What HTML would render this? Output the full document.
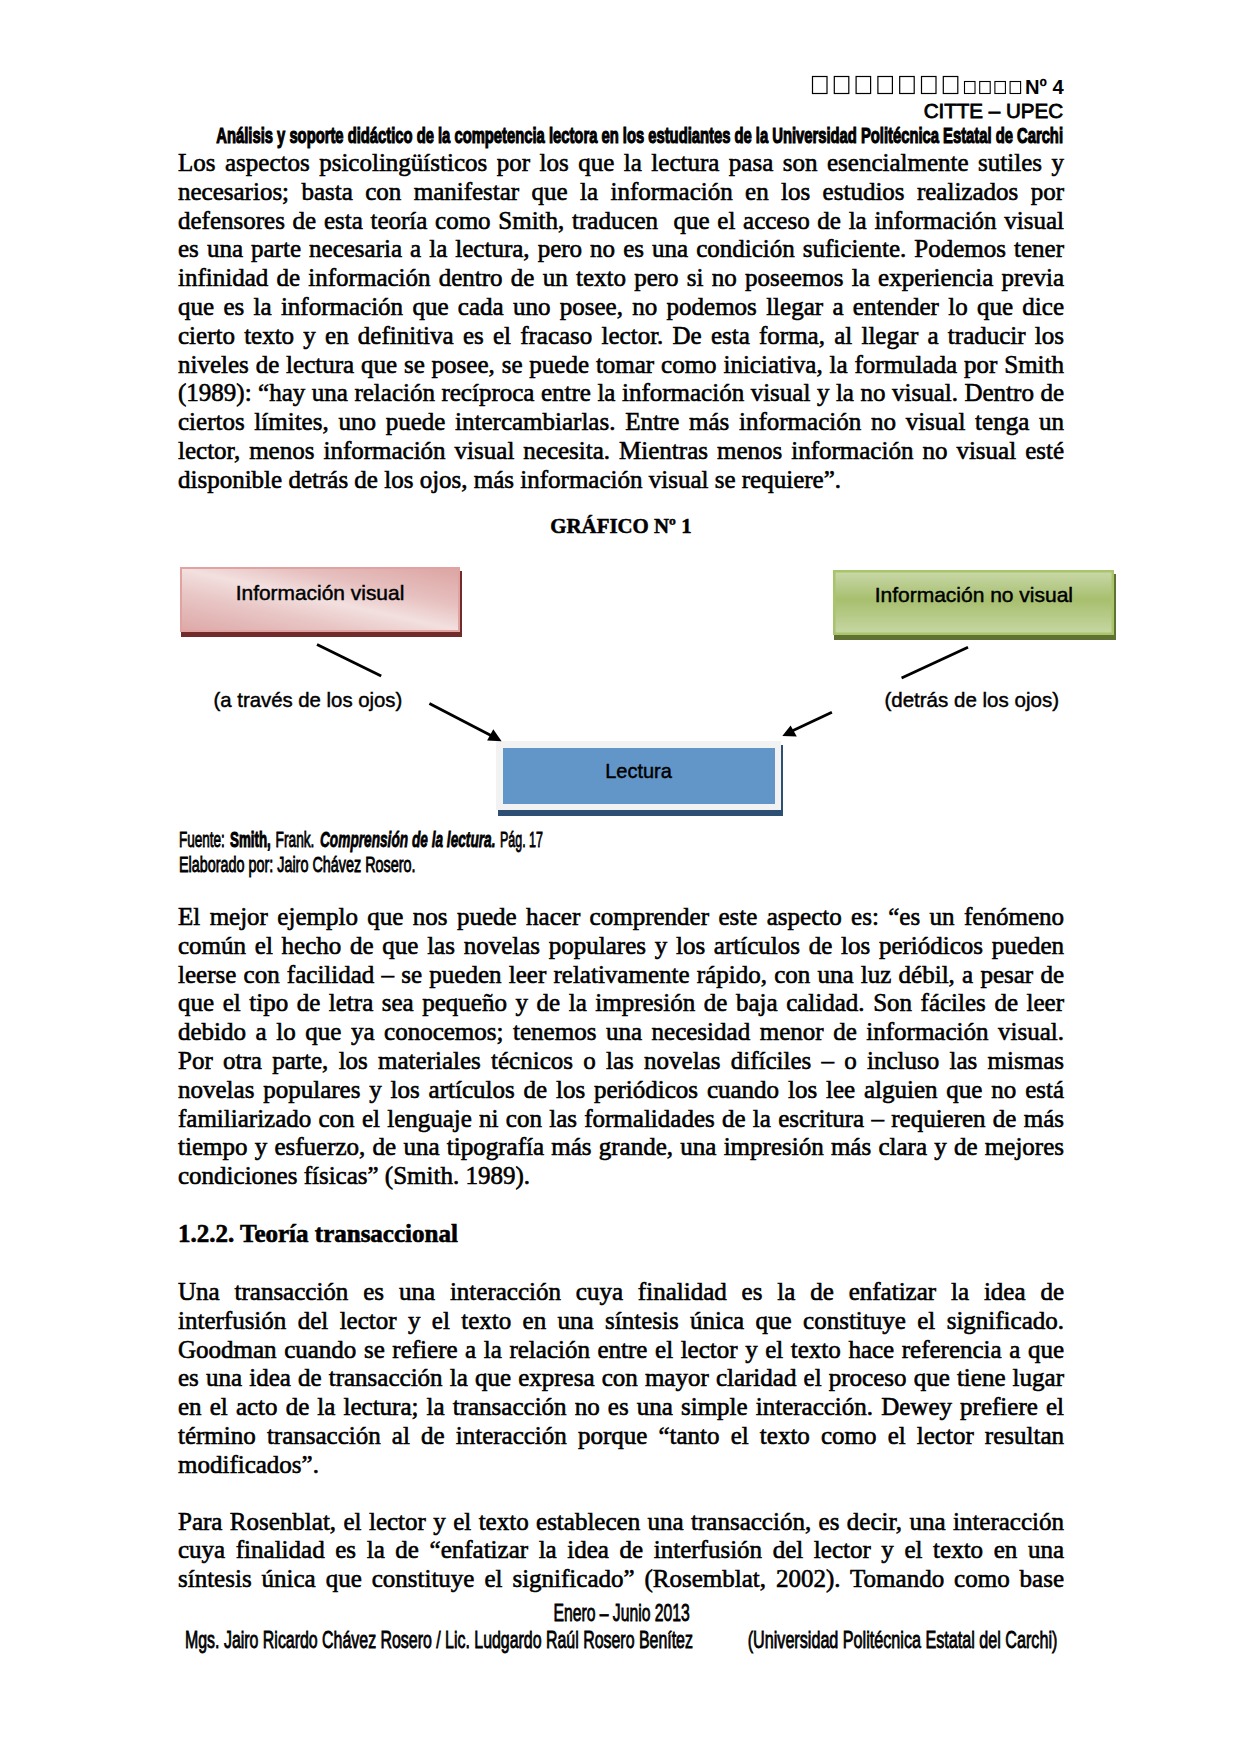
<!DOCTYPE html>
<html><head><meta charset="utf-8">
<style>
html,body{margin:0;padding:0;background:#fff;}
body{width:1240px;height:1754px;position:relative;overflow:hidden;color:#000;}
.ln{position:absolute;left:178px;width:886px;font-family:"Liberation Serif",serif;font-size:25px;line-height:29px;height:29px;white-space:normal;-webkit-text-stroke:0.6px #000;}
.j{text-align:justify;text-align-last:justify;}
.l{text-align:left;}
.b{font-weight:bold;-webkit-text-stroke:0.6px #000;}
svg{position:absolute;left:0;top:0;}
.sans{font-family:"Liberation Sans",sans-serif;}
.serif{font-family:"Liberation Serif",serif;}
</style></head><body>
<div class="ln j" style="top:148.0px">Los aspectos psicolingüísticos por los que la lectura pasa son esencialmente sutiles y</div>
<div class="ln j" style="top:176.8px">necesarios; basta con manifestar que la información en los estudios realizados por</div>
<div class="ln j" style="top:205.6px">defensores de esta teoría como Smith, traducen&nbsp; que el acceso de la información visual</div>
<div class="ln j" style="top:234.4px">es una parte necesaria a la lectura, pero no es una condición suficiente. Podemos tener</div>
<div class="ln j" style="top:263.2px">infinidad de información dentro de un texto pero si no poseemos la experiencia previa</div>
<div class="ln j" style="top:292.0px">que es la información que cada uno posee, no podemos llegar a entender lo que dice</div>
<div class="ln j" style="top:320.8px">cierto texto y en definitiva es el fracaso lector. De esta forma, al llegar a traducir los</div>
<div class="ln j" style="top:349.6px">niveles de lectura que se posee, se puede tomar como iniciativa, la formulada por Smith</div>
<div class="ln j" style="top:378.4px">(1989): “hay una relación recíproca entre la información visual y la no visual. Dentro de</div>
<div class="ln j" style="top:407.2px">ciertos límites, uno puede intercambiarlas. Entre más información no visual tenga un</div>
<div class="ln j" style="top:436.0px">lector, menos información visual necesita. Mientras menos información no visual esté</div>
<div class="ln l" style="top:464.8px">disponible detrás de los ojos, más información visual se requiere”.</div>
<div class="ln j" style="top:902.0px">El mejor ejemplo que nos puede hacer comprender este aspecto es: “es un fenómeno</div>
<div class="ln j" style="top:930.8px">común el hecho de que las novelas populares y los artículos de los periódicos pueden</div>
<div class="ln j" style="top:959.6px">leerse con facilidad – se pueden leer relativamente rápido, con una luz débil, a pesar de</div>
<div class="ln j" style="top:988.4px">que el tipo de letra sea pequeño y de la impresión de baja calidad. Son fáciles de leer</div>
<div class="ln j" style="top:1017.2px">debido a lo que ya conocemos; tenemos una necesidad menor de información visual.</div>
<div class="ln j" style="top:1046.0px">Por otra parte, los materiales técnicos o las novelas difíciles – o incluso las mismas</div>
<div class="ln j" style="top:1074.8px">novelas populares y los artículos de los periódicos cuando los lee alguien que no está</div>
<div class="ln j" style="top:1103.6px">familiarizado con el lenguaje ni con las formalidades de la escritura – requieren de más</div>
<div class="ln j" style="top:1132.4px">tiempo y esfuerzo, de una tipografía más grande, una impresión más clara y de mejores</div>
<div class="ln l" style="top:1161.2px">condiciones físicas” (Smith. 1989).</div>
<div class="ln l b" style="top:1219.0px">1.2.2. Teoría transaccional</div>
<div class="ln j" style="top:1277.0px">Una transacción es una interacción cuya finalidad es la de enfatizar la idea de</div>
<div class="ln j" style="top:1305.8px">interfusión del lector y el texto en una síntesis única que constituye el significado.</div>
<div class="ln j" style="top:1334.6px">Goodman cuando se refiere a la relación entre el lector y el texto hace referencia a que</div>
<div class="ln j" style="top:1363.4px">es una idea de transacción la que expresa con mayor claridad el proceso que tiene lugar</div>
<div class="ln j" style="top:1392.2px">en el acto de la lectura; la transacción no es una simple interacción. Dewey prefiere el</div>
<div class="ln j" style="top:1421.0px">término transacción al de interacción porque “tanto el texto como el lector resultan</div>
<div class="ln l" style="top:1449.8px">modificados”.</div>
<div class="ln j" style="top:1506.6px">Para Rosenblat, el lector y el texto establecen una transacción, es decir, una interacción</div>
<div class="ln j" style="top:1535.4px">cuya finalidad es la de “enfatizar la idea de interfusión del lector y el texto en una</div>
<div class="ln j" style="top:1564.2px">síntesis única que constituye el significado” (Rosemblat, 2002). Tomando como base</div>
<svg width="1240" height="1754" viewBox="0 0 1240 1754">
<defs>
<linearGradient id="gp" x1="0" y1="1" x2="1" y2="0" gradientUnits="objectBoundingBox">
<stop offset="0" stop-color="#DDA9A8"/><stop offset="0.3" stop-color="#E8C6C5"/><stop offset="0.5" stop-color="#F2E0DF"/><stop offset="0.7" stop-color="#E6C0BF"/><stop offset="1" stop-color="#DCA5A3"/>
</linearGradient>
<linearGradient id="gg" x1="0" y1="0" x2="0" y2="1">
<stop offset="0" stop-color="#C8D7A7"/><stop offset="0.45" stop-color="#A7BF6E"/><stop offset="1" stop-color="#C6D6A2"/>
</linearGradient>
</defs>
<rect x="812.5" y="76.5" width="14.5" height="17" fill="none" stroke="#000" stroke-width="1.2"/>
<rect x="834.3" y="76.5" width="14.5" height="17" fill="none" stroke="#000" stroke-width="1.2"/>
<rect x="856.1" y="76.5" width="14.5" height="17" fill="none" stroke="#000" stroke-width="1.2"/>
<rect x="877.9" y="76.5" width="14.5" height="17" fill="none" stroke="#000" stroke-width="1.2"/>
<rect x="899.7" y="76.5" width="14.5" height="17" fill="none" stroke="#000" stroke-width="1.2"/>
<rect x="921.5" y="76.5" width="14.5" height="17" fill="none" stroke="#000" stroke-width="1.2"/>
<rect x="943.3" y="76.5" width="14.5" height="17" fill="none" stroke="#000" stroke-width="1.2"/>
<rect x="964.5" y="81.5" width="10.5" height="12" fill="none" stroke="#000" stroke-width="1.1"/>
<rect x="979.7" y="81.5" width="10.5" height="12" fill="none" stroke="#000" stroke-width="1.1"/>
<rect x="994.9" y="81.5" width="10.5" height="12" fill="none" stroke="#000" stroke-width="1.1"/>
<rect x="1010.1" y="81.5" width="10.5" height="12" fill="none" stroke="#000" stroke-width="1.1"/>
<text class="sans" x="1025" y="93.7" font-size="20" font-weight="bold" textLength="38.7" lengthAdjust="spacingAndGlyphs">Nº 4</text>
<text class="sans" x="923.7" y="117.6" font-size="20" stroke="#000" stroke-width="0.8" textLength="139.4" lengthAdjust="spacingAndGlyphs">CITTE – UPEC</text>
<text class="sans" x="216.3" y="142.7" font-size="21.6" font-weight="bold" textLength="846.7" lengthAdjust="spacingAndGlyphs" stroke="#000" stroke-width="1.1">Análisis y soporte didáctico de la competencia lectora en los estudiantes de la Universidad Politécnica Estatal de Carchi</text>
<text class="serif" x="550.3" y="532.7" font-size="20.8" font-weight="bold" stroke="#000" stroke-width="0.5" textLength="141.3" lengthAdjust="spacingAndGlyphs">GRÁFICO Nº 1</text>
<rect x="181" y="571" width="281" height="66" fill="#722B2B"/>
<rect x="180" y="567" width="280" height="65" fill="#E0A3A2"/>
<rect x="182" y="569" width="276" height="61" fill="url(#gp)"/>
<text class="sans" x="235.7" y="599.5" font-size="20.3" stroke="#000" stroke-width="0.45" textLength="168.6" lengthAdjust="spacingAndGlyphs">Información visual</text>
<rect x="834" y="574" width="282" height="66" fill="#5F7232"/>
<rect x="833" y="570" width="281" height="65" fill="#A9C46A"/>
<rect x="835.5" y="572.5" width="276" height="60" fill="url(#gg)"/>
<text class="sans" x="874.7" y="601.8" font-size="20.7" stroke="#000" stroke-width="0.45" textLength="198.3" lengthAdjust="spacingAndGlyphs">Información no visual</text>
<rect x="498" y="745" width="285" height="71" fill="#2D4F73"/>
<rect x="496" y="741" width="285" height="69" fill="#F2F2F2"/>
<rect x="503" y="748" width="272" height="56" fill="#6296C9"/>
<text class="sans" x="605.2" y="777.9" font-size="20.8" stroke="#000" stroke-width="0.45" textLength="66.7" lengthAdjust="spacingAndGlyphs">Lectura</text>
<line x1="317" y1="644.4" x2="381.2" y2="676" stroke="#000" stroke-width="2.8"/>
<line x1="968" y1="647.3" x2="901.6" y2="678.1" stroke="#000" stroke-width="2.8"/>
<line x1="429.4" y1="703.4" x2="491" y2="735.5" stroke="#000" stroke-width="2.8"/>
<polygon points="501.6,741.2 493.3,729.2 487.1,740.4" fill="#000"/>
<line x1="831.9" y1="712.3" x2="792" y2="731" stroke="#000" stroke-width="2.8"/>
<polygon points="782.3,736.1 790.6,725.5 796.8,736.5" fill="#000"/>
<text class="sans" x="213.5" y="706.7" font-size="20.7" stroke="#000" stroke-width="0.45" textLength="188.8" lengthAdjust="spacingAndGlyphs">(a través de los ojos)</text>
<text class="sans" x="884.4" y="707" font-size="20.7" stroke="#000" stroke-width="0.45" textLength="174.6" lengthAdjust="spacingAndGlyphs">(detrás de los ojos)</text>
<text class="sans" x="178.9" y="846.8" font-size="21.4" font-weight="normal" font-style="normal" textLength="45.9" lengthAdjust="spacingAndGlyphs" stroke="#000" stroke-width="0.85">Fuente:</text>
<text class="sans" x="230" y="846.8" font-size="21.4" font-weight="bold" font-style="normal" textLength="40.8" lengthAdjust="spacingAndGlyphs" stroke="#000" stroke-width="1.0">Smith,</text>
<text class="sans" x="275.6" y="846.8" font-size="21.4" font-weight="normal" font-style="normal" textLength="38.8" lengthAdjust="spacingAndGlyphs" stroke="#000" stroke-width="0.85">Frank.</text>
<text class="sans" x="320" y="846.8" font-size="21.4" font-weight="bold" font-style="italic" textLength="175.5" lengthAdjust="spacingAndGlyphs" stroke="#000" stroke-width="0.8">Comprensión de la lectura.</text>
<text class="sans" x="500" y="846.8" font-size="21.4" font-weight="normal" font-style="normal" textLength="43.0" lengthAdjust="spacingAndGlyphs" stroke="#000" stroke-width="0.85">Pág. 17</text>
<text class="sans" x="178.9" y="871.8" font-size="21.4" font-weight="normal" font-style="normal" textLength="236.6" lengthAdjust="spacingAndGlyphs" stroke="#000" stroke-width="0.85">Elaborado por: Jairo Chávez Rosero.</text>
<text class="sans" x="553.5" y="1620.8" font-size="24.3" font-weight="normal" font-style="normal" textLength="136.2" lengthAdjust="spacingAndGlyphs" stroke="#000" stroke-width="0.85">Enero – Junio 2013</text>
<text class="sans" x="185" y="1647.9" font-size="24.3" font-weight="normal" font-style="normal" textLength="507.9" lengthAdjust="spacingAndGlyphs" stroke="#000" stroke-width="0.85">Mgs. Jairo Ricardo Chávez Rosero / Lic. Ludgardo Raúl Rosero Benítez</text>
<text class="sans" x="747.7" y="1647.9" font-size="24.3" font-weight="normal" font-style="normal" textLength="309.7" lengthAdjust="spacingAndGlyphs" stroke="#000" stroke-width="0.85">(Universidad Politécnica Estatal del Carchi)</text>
</svg>
</body></html>
